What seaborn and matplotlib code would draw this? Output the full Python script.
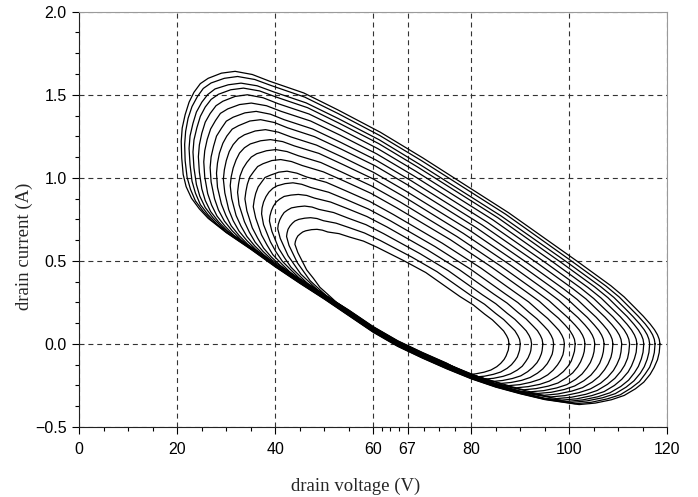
import matplotlib
matplotlib.use("Agg")
import matplotlib.pyplot as plt
import seaborn as sns

# ---------------- data ----------------
X_TICKS = [0, 20, 40, 60, 67, 80, 100, 120]
Y_TICKS = [-0.5, 0.0, 0.5, 1.0, 1.5, 2.0]
X_LABEL = "drain voltage (V)"
Y_LABEL = "drain current (A)"

# load-line loops, innermost (01) to outermost (18): (drain voltage V, drain current A)
LOOP_01 = [(87.7, 0.0), (87.55, .028), (87.2, .050), (86.6, .078), (85.7, .105), (84.3, .145), (82.7, .180), (80.4, .235), (77.7, .285), (70.7, .430),
           (66.3, .500), (60.7, .583), (58.0, .619), (55.2, .643), (53.0, .664), (50.7, .674), (49.6, .685), (48.5, .690), (47.4, .688), (46.2, .681),
           (45.6, .674), (45.1, .663), (44.6, .650), (44.3, .634), (44.1, .617), (44.0, .600), (44.6, .550), (46.4, .446), (47.8, .394), (49.1, .341),
           (50.8, .296), (52.5, .250), (55, .204), (60, .104), (65, .019), (70, -.051), (75, -.116), (79.2, -.185), (80.9, -.180), (82.6, -.170),
           (84.0, -.157), (85.2, -.137), (86.0, -.117), (86.7, -.093), (87.1, -.072), (87.4, -.048), (87.55, -.037)]
LOOP_02 = [(90.0, 0.0), (89.85, .028), (89.5, .050), (88.9, .079), (88.0, .106), (86.6, .147), (85.0, .183), (82.7, .239), (80.0, .290), (73.0, .435),
           (67.9, .522), (61.4, .623), (58.2, .668), (55.0, .701), (52.4, .727), (49.8, .742), (48.5, .755), (47.2, .760), (46.0, .757), (44.8, .750),
           (44.0, .740), (43.5, .727), (43.0, .710), (42.6, .690), (42.4, .668), (42.3, .647), (42.8, .593), (44.5, .489), (45.8, .435), (47.1, .381),
           (48.8, .334), (50.5, .288), (55, .202), (60, .102), (65, .017), (70, -.053), (75, -.118), (80.9, -.199), (82.7, -.194), (84.5, -.183),
           (86.0, -.169), (87.3, -.147), (88.2, -.125), (88.9, -.100), (89.4, -.078), (89.7, -.052), (89.85, -.038)]
LOOP_03 = [(92.3, 0.0), (92.15, .028), (91.8, .051), (91.2, .079), (90.3, .107), (88.9, .148), (87.3, .185), (85.0, .242), (82.3, .295), (75.3, .441),
           (69.5, .544), (62.1, .664), (58.5, .718), (54.8, .758), (51.9, .791), (48.9, .810), (47.5, .824), (46.0, .830), (44.6, .826), (43.3, .819),
           (42.5, .806), (41.8, .791), (41.3, .769), (40.9, .746), (40.6, .719), (40.5, .693), (41.0, .636), (42.6, .532), (43.9, .476), (45.2, .421),
           (46.9, .373), (48.6, .326), (55, .200), (60, .100), (65, .015), (70, -.055), (75, -.120), (82.6, -.212), (84.5, -.207), (86.5, -.195),
           (88.0, -.180), (89.4, -.157), (90.4, -.134), (91.1, -.106), (91.6, -.083), (92.0, -.055), (92.15, -.039)]
LOOP_04 = [(94.6, 0.0), (94.45, .028), (94.1, .051), (93.5, .080), (92.6, .108), (91.2, .150), (89.6, .188), (87.3, .246), (84.6, .300), (77.6, .446),
           (71.1, .565), (62.8, .704), (58.7, .767), (54.6, .816), (51.3, .854), (48.0, .878), (46.4, .894), (44.7, .900), (43.2, .896), (41.8, .888),
           (40.9, .872), (40.2, .855), (39.6, .829), (39.2, .802), (38.9, .770), (38.8, .740), (39.3, .678), (40.7, .575), (41.9, .518), (43.2, .462),
           (44.9, .412), (46.6, .364), (50, .298), (55, .198), (60, .098), (65, .013), (70, -.057), (75, -.122), (80, -.182), (84.3, -.226),
           (86.4, -.220), (88.4, -.208), (90.1, -.192), (91.5, -.167), (92.5, -.142), (93.4, -.113), (93.9, -.088), (94.3, -.059), (94.45, -.040)]
LOOP_05 = [(96.8, 0.0), (96.65, .028), (96.3, .051), (95.7, .080), (94.8, .109), (93.4, .151), (91.8, .190), (89.5, .249), (86.8, .304), (79.8, .451),
           (72.6, .586), (63.5, .741), (59.0, .812), (54.5, .869), (50.9, .913), (47.2, .942), (45.4, .961), (43.6, .970), (42.0, .965), (40.4, .952),
           (39.5, .937), (38.7, .914), (38.1, .887), (37.6, .854), (37.3, .819), (37.2, .783), (37.6, .718), (39.0, .615), (40.1, .556), (41.4, .499),
           (43.1, .448), (44.8, .399), (50, .296), (55, .196), (60, .096), (65, .011), (70, -.059), (75, -.124), (80, -.184), (85.9, -.238),
           (88.1, -.232), (90.3, -.219), (92.0, -.202), (93.5, -.176), (94.6, -.150), (95.5, -.119), (96.0, -.093), (96.5, -.062), (96.65, -.041)]
LOOP_06 = [(99.0, 0.0), (98.85, .028), (98.5, .052), (97.9, .081), (97.0, .110), (95.6, .153), (94.0, .193), (91.7, .253), (89.0, .309), (82.0, .456),
           (74.1, .606), (64.1, .779), (59.2, .859), (54.3, .923), (50.4, .973), (46.4, 1.005), (44.4, 1.028), (42.4, 1.040), (40.7, 1.034), (39.0, 1.016),
           (37.9, 1.002), (37.2, .974), (36.5, .945), (36.0, .906), (35.7, .867), (35.5, .826), (36.0, .758), (37.2, .656), (38.3, .596), (39.5, .537),
           (41.2, .485), (42.9, .435), (45, .389), (50, .294), (55, .194), (60, .094), (65, .009), (70, -.061), (75, -.126), (80, -.186),
           (87.6, -.251), (89.9, -.245), (92.1, -.231), (94.0, -.213), (95.6, -.186), (96.7, -.158), (97.6, -.126), (98.2, -.098), (98.7, -.065), (98.85, -.042)]
LOOP_07 = [(101.2, 0.0), (101.05, .028), (100.7, .052), (100.1, .081), (99.2, .112), (97.8, .155), (96.2, .195), (93.9, .256), (91.2, .314), (84.2, .461),
           (75.7, .628), (64.8, .819), (59.5, .907), (54.1, .980), (49.8, 1.036), (45.5, 1.074), (43.3, 1.098), (41.1, 1.110), (39.3, 1.104), (37.5, 1.085),
           (36.4, 1.068), (35.6, 1.038), (34.8, 1.005), (34.3, .962), (34.0, .918), (33.8, .873), (34.2, .801), (35.3, .699), (36.4, .637), (37.6, .577),
           (39.2, .523), (41.0, .473), (45, .387), (50, .292), (55, .192), (60, .092), (65, .007), (70, -.063), (75, -.128), (80, -.188), (85, -.238),
           (89.2, -.264), (91.6, -.257), (94.0, -.243), (95.9, -.224), (97.6, -.195), (98.8, -.166), (99.8, -.132), (100.4, -.103), (100.8, -.069), (101.05, -.044)]
LOOP_08 = [(103.2, 0.0), (103.05, .028), (102.7, .053), (102.1, .082), (101.2, .113), (99.8, .156), (98.2, .198), (95.9, .259), (93.2, .318), (86.2, .465),
           (77.1, .646), (65.5, .854), (59.7, .950), (53.9, 1.030), (49.3, 1.092), (44.7, 1.133), (42.4, 1.158), (40.1, 1.170), (38.2, 1.163), (36.2, 1.145),
           (35.1, 1.125), (34.2, 1.093), (33.4, 1.056), (32.8, 1.011), (32.5, .962), (32.3, .913), (32.6, .838), (33.7, .736), (34.7, .673), (35.9, .612),
           (37.5, .557), (39.3, .506), (45, .385), (50, .290), (55, .190), (60, .090), (65, .005), (70, -.065), (75, -.130), (80, -.190), (85, -.240),
           (90.7, -.276), (93.2, -.269), (95.7, -.254), (97.7, -.235), (99.4, -.204), (100.7, -.174), (101.7, -.138), (102.3, -.108), (102.8, -.072), (103.05, -.045)]
LOOP_09 = [(105.2, 0.0), (105.05, .028), (104.7, .053), (104.1, .082), (103.2, .114), (101.8, .158), (100.2, .200), (97.9, .262), (95.2, .322), (88.2, .470),
           (78.4, .665), (66.1, .889), (60.0, .993), (53.8, 1.080), (48.9, 1.147), (43.9, 1.192), (41.5, 1.218), (39.0, 1.230), (37.0, 1.223), (34.9, 1.204),
           (33.7, 1.181), (32.7, 1.149), (32.0, 1.108), (31.4, 1.059), (31.0, 1.006), (30.8, .953), (31.1, .875), (32.0, .773), (33.0, .709), (34.2, .647),
           (35.8, .590), (37.6, .538), (40, .482), (45, .383), (50, .288), (55, .188), (60, .088), (65, .003), (70, -.067), (75, -.132), (80, -.192),
           (85, -.242), (92.1, -.288), (94.8, -.281), (97.4, -.265), (99.5, -.245), (101.3, -.213), (102.6, -.181), (103.6, -.144), (104.3, -.112),
           (104.8, -.075), (105.05, -.046)]
LOOP_10 = [(107.1, 0.0), (106.95, .028), (106.6, .053), (106.0, .082), (105.1, .114), (103.7, .159), (102.1, .202), (99.8, .265), (97.1, .326), (90.1, .474),
           (79.7, .683), (66.6, .921), (60.1, 1.032), (53.6, 1.126), (48.4, 1.197), (43.2, 1.246), (40.6, 1.275), (38.0, 1.290), (35.9, 1.282), (33.7, 1.259),
           (32.5, 1.237), (31.4, 1.200), (30.6, 1.158), (30.0, 1.104), (29.6, 1.048), (29.4, .991), (29.7, .909), (30.5, .808), (31.4, .742), (32.6, .679),
           (34.2, .622), (36.0, .569), (40, .480), (45, .381), (50, .286), (55, .186), (60, .086), (65, .001), (70, -.069), (75, -.134), (80, -.194),
           (85, -.244), (90, -.284), (93.6, -.298), (96.3, -.291), (99.0, -.274), (101.1, -.253), (103.0, -.221), (104.4, -.188), (105.5, -.149),
           (106.2, -.116), (106.7, -.077), (106.95, -.046)]
LOOP_11 = [(108.9, 0.0), (108.75, .028), (108.4, .053), (107.8, .083), (106.9, .115), (105.5, .160), (103.9, .204), (101.6, .268), (98.9, .330), (91.9, .478),
           (81.0, .700), (67.2, .954), (60.4, 1.072), (53.5, 1.172), (48.0, 1.248), (42.5, 1.301), (39.8, 1.333), (37.0, 1.350), (34.8, 1.342), (32.5, 1.314),
           (31.2, 1.293), (30.1, 1.251), (29.3, 1.208), (28.6, 1.149), (28.2, 1.089), (28.0, 1.028), (28.2, .943), (29.0, .842), (29.9, .775), (31.0, .711),
           (32.6, .653), (34.4, .599), (40, .478), (45, .379), (50, .284), (55, .184), (60, .084), (65, -.001), (70, -.071), (75, -.136), (80, -.196),
           (85, -.246), (90, -.286), (94.9, -.309), (97.7, -.301), (100.5, -.284), (102.7, -.263), (104.7, -.229), (106.1, -.195), (107.2, -.155),
           (107.9, -.121), (108.5, -.080), (108.75, -.047)]
LOOP_12 = [(110.7, 0.0), (110.55, .028), (110.2, .054), (109.6, .083), (108.7, .116), (107.3, .161), (105.7, .206), (103.4, .271), (100.7, .333), (93.7, .482),
           (82.2, .716), (67.7, .983), (60.5, 1.108), (53.3, 1.214), (47.6, 1.294), (41.8, 1.350), (39.0, 1.383), (36.1, 1.400), (33.8, 1.391), (31.4, 1.365),
           (30.0, 1.341), (29.0, 1.298), (28.0, 1.251), (27.4, 1.190), (26.9, 1.126), (26.7, 1.062), (26.9, .975), (27.6, .874), (28.4, .806), (29.6, .740),
           (31.2, .681), (33.0, .627), (35, .582), (40, .476), (45, .377), (50, .282), (55, .182), (60, .082), (65, -.003), (70, -.073), (75, -.138),
           (80, -.198), (85, -.248), (90, -.288), (96.2, -.319), (99.1, -.311), (102.0, -.293), (104.3, -.271), (106.4, -.236), (107.8, -.201),
           (109.0, -.160), (109.7, -.124), (110.3, -.083), (110.55, -.048)]
LOOP_13 = [(112.3, 0.0), (112.15, .028), (111.8, .054), (111.2, .084), (110.3, .117), (108.9, .163), (107.3, .208), (105.0, .273), (102.3, .337), (95.3, .486),
           (83.3, .732), (68.2, 1.013), (60.7, 1.144), (53.2, 1.257), (47.2, 1.342), (41.2, 1.400), (38.2, 1.434), (35.1, 1.450), (32.7, 1.441), (30.3, 1.415),
           (28.8, 1.388), (27.8, 1.345), (26.8, 1.294), (26.1, 1.231), (25.6, 1.163), (25.4, 1.096), (25.6, 1.006), (26.2, .905), (27.0, .836), (28.1, .770),
           (29.7, .710), (31.5, .655), (35, .580), (40, .474), (45, .375), (50, .280), (55, .180), (60, .080), (65, -.005), (70, -.075), (75, -.140),
           (80, -.200), (85, -.250), (90, -.290), (97.4, -.329), (100.4, -.321), (103.4, -.303), (105.7, -.280), (107.8, -.243), (109.3, -.207),
           (110.5, -.165), (111.3, -.128), (111.9, -.086), (112.15, -.049)]
LOOP_14 = [(113.8, 0.0), (113.65, .028), (113.3, .054), (112.7, .084), (111.8, .118), (110.4, .164), (108.8, .210), (106.5, .276), (103.8, .340), (96.8, .490),
           (84.4, .747), (68.7, 1.039), (60.9, 1.176), (53.1, 1.295), (46.9, 1.384), (40.6, 1.446), (37.5, 1.482), (34.3, 1.500), (31.8, 1.490), (29.3, 1.461),
           (27.9, 1.434), (26.7, 1.387), (25.7, 1.335), (25.0, 1.268), (24.5, 1.198), (24.3, 1.127), (24.5, 1.035), (25.0, .934), (25.7, .864), (26.8, .797),
           (28.4, .736), (30.2, .680), (35, .578), (40, .472), (45, .373), (50, .278), (55, .178), (60, .078), (65, -.007), (70, -.077), (75, -.142),
           (80, -.202), (85, -.252), (90, -.292), (95, -.327), (98.5, -.338), (101.6, -.330), (104.6, -.311), (107.1, -.287), (109.2, -.250),
           (110.7, -.213), (112.0, -.169), (112.7, -.132), (113.3, -.088), (113.65, -.050)]
LOOP_15 = [(115.2, 0.0), (115.05, .028), (114.7, .054), (114.1, .084), (113.2, .118), (111.8, .165), (110.2, .211), (107.9, .278), (105.2, .343), (98.2, .493),
           (85.4, .760), (69.1, 1.064), (61.1, 1.206), (53.0, 1.329), (46.6, 1.422), (40.1, 1.487), (36.8, 1.523), (33.5, 1.540), (30.9, 1.530), (28.4, 1.503),
           (26.9, 1.472), (25.7, 1.426), (24.7, 1.370), (24.0, 1.302), (23.4, 1.228), (23.2, 1.155), (23.4, 1.060), (23.9, .960), (24.6, .889), (25.7, .821),
           (27.3, .759), (29.1, .703), (35, .576), (40, .470), (45, .371), (50, .276), (55, .176), (60, .076), (65, -.009), (70, -.079), (75, -.144),
           (80, -.204), (85, -.254), (90, -.294), (95, -.329), (99.5, -.346), (102.7, -.337), (105.8, -.318), (108.3, -.294), (110.5, -.256),
           (112.1, -.218), (113.3, -.173), (114.1, -.135), (114.7, -.090), (115.05, -.050)]
LOOP_16 = [(116.4, 0.0), (116.25, .028), (115.9, .055), (115.3, .085), (114.4, .119), (113.0, .165), (111.4, .213), (109.1, .280), (106.4, .345), (99.4, .495),
           (86.1, .770), (69.4, 1.082), (61.2, 1.229), (52.9, 1.356), (46.3, 1.451), (39.6, 1.518), (36.3, 1.554), (33.0, 1.570), (30.4, 1.560), (27.7, 1.535),
           (26.2, 1.501), (25.0, 1.455), (23.9, 1.396), (23.2, 1.328), (22.6, 1.252), (22.4, 1.177), (22.6, 1.080), (23.0, .980), (23.7, .908), (24.7, .839),
           (26.3, .777), (28.1, .721), (30, .674), (35, .574), (40, .468), (45, .369), (50, .274), (55, .174), (60, .074), (65, -.011), (70, -.081),
           (75, -.146), (80, -.206), (85, -.256), (90, -.296), (95, -.331), (100.5, -.352), (103.6, -.343), (106.8, -.324), (109.4, -.299), (111.6, -.260),
           (113.2, -.222), (114.5, -.176), (115.3, -.137), (115.9, -.092), (116.25, -.051)]
LOOP_17 = [(117.5, 0.0), (117.35, .028), (117.0, .055), (116.4, .085), (115.5, .120), (114.1, .166), (112.5, .214), (110.2, .282), (107.5, .348), (100.5, .498),
           (87.0, .781), (69.8, 1.104), (61.3, 1.255), (52.8, 1.387), (46.0, 1.486), (39.2, 1.555), (35.8, 1.592), (32.3, 1.610), (29.6, 1.599), (26.9, 1.571),
           (25.3, 1.538), (24.1, 1.489), (23.0, 1.429), (22.2, 1.358), (21.7, 1.279), (21.5, 1.201), (21.6, 1.103), (22.0, 1.003), (22.7, .930), (23.7, .861),
           (25.3, .798), (27.1, .741), (30, .672), (35, .572), (40, .466), (45, .367), (50, .272), (55, .172), (60, .072), (65, -.013), (70, -.083),
           (75, -.148), (80, -.208), (85, -.258), (90, -.298), (95, -.333), (101.2, -.360), (104.5, -.351), (107.7, -.331), (110.4, -.306), (112.6, -.266),
           (114.3, -.227), (115.5, -.180), (116.4, -.140), (117.0, -.094), (117.35, -.052)]
LOOP_18 = [(118.5, 0.0), (118.35, .028), (118.0, .055), (117.4, .085), (116.5, .120), (115.1, .167), (113.5, .215), (111.2, .283), (108.5, .350), (101.5, .500),
           (87.6, .790), (70.1, 1.120), (61.4, 1.275), (52.7, 1.410), (45.8, 1.511), (38.8, 1.582), (35.3, 1.622), (31.8, 1.641), (29.0, 1.630), (26.3, 1.599),
           (24.7, 1.567), (23.4, 1.515), (22.4, 1.455), (21.6, 1.380), (21.0, 1.300), (20.8, 1.220), (20.9, 1.120), (21.2, 1.020), (21.8, .947), (22.9, .877),
           (24.5, .813), (26.3, .756), (30, .670), (35, .570), (40, .464), (45, .365), (50, .270), (55, .170), (60, .070), (65, -.015), (70, -.085),
           (75, -.150), (80, -.210), (85, -.260), (90, -.300), (95, -.335), (102.0, -.365), (105.3, -.356), (108.6, -.336), (111.2, -.310), (113.5, -.270),
           (115.2, -.230), (116.5, -.183), (117.3, -.142), (118.0, -.095), (118.35, -.052)]

LOOPS = [LOOP_01, LOOP_02, LOOP_03, LOOP_04, LOOP_05, LOOP_06, LOOP_07, LOOP_08, LOOP_09,
         LOOP_10, LOOP_11, LOOP_12, LOOP_13, LOOP_14, LOOP_15, LOOP_16, LOOP_17, LOOP_18]

# ---------------- styling ----------------
sns.set_style("white")
plt.rcParams["font.family"] = ["Liberation Sans", "DejaVu Sans"]
plt.rcParams["axes.unicode_minus"] = True

W, H = 698, 497
fig = plt.figure(figsize=(W / 100, H / 100), dpi=100)
ax = fig.add_axes([79.3 / W, 1 - 427.0 / H, (667.3 - 79.3) / W, (427.0 - 11.7) / H])

for loop in LOOPS:
    closed = loop + loop[:1]
    v = [p[0] for p in closed]
    i = [p[1] for p in closed]
    sns.lineplot(x=v, y=i, sort=False, estimator=None,
                 color="black", linewidth=0.9, ax=ax, zorder=3)

ax.set_xlim(X_TICKS[0], X_TICKS[-1])
ax.set_ylim(Y_TICKS[0], Y_TICKS[-1])
ax.set_xticks(X_TICKS)
ax.set_xticklabels([str(t) for t in X_TICKS])
ax.set_yticks(Y_TICKS)
ax.set_yticklabels([f"{t:.1f}".replace("-", "\u2212") for t in Y_TICKS])

# minor ticks: quarters between consecutive major ticks
xminor = []
for a, b in zip(X_TICKS[:-1], X_TICKS[1:]):
    xminor += [a + (b - a) * q / 4 for q in (1, 2, 3)]
yminor = []
for a, b in zip(Y_TICKS[:-1], Y_TICKS[1:]):
    yminor += [a + (b - a) * q / 4 for q in (1, 2, 3)]
ax.set_xticks(xminor, minor=True)
ax.set_yticks(yminor, minor=True)

ax.tick_params(which="major", direction="out", length=5, width=0.8,
               labelsize=11.5, pad=4, colors="black",
               bottom=True, left=True, top=False, right=False)
ax.tick_params(which="minor", direction="out", length=3, width=0.8,
               bottom=True, left=True, top=False, right=False, colors="black")
ax.tick_params(axis="x", which="major", pad=6)

ax.grid(True, which="major", linestyle=(0, (4.5, 3.5)), color="#333333",
        linewidth=0.8, zorder=1)
ax.set_axisbelow(True)

for side in ("left", "bottom"):
    ax.spines[side].set_color("#222222")
    ax.spines[side].set_linewidth(0.8)
for side in ("top", "right"):
    ax.spines[side].set_color("#9a9a9a")
    ax.spines[side].set_linewidth(0.8)

serif = ["Liberation Serif", "DejaVu Serif"]
ax.set_xlabel(X_LABEL, family=serif, fontsize=13.5)
ax.set_ylabel(Y_LABEL, family=serif, fontsize=13.5)
ax.xaxis.set_label_coords((356 - 79.3) / 588.0, (427 - 478) / 415.3)
ax.yaxis.set_label_coords((33 - 79.3) / 588.0, (427 - 246) / 415.3)

fig.savefig("out.png", dpi=100)
